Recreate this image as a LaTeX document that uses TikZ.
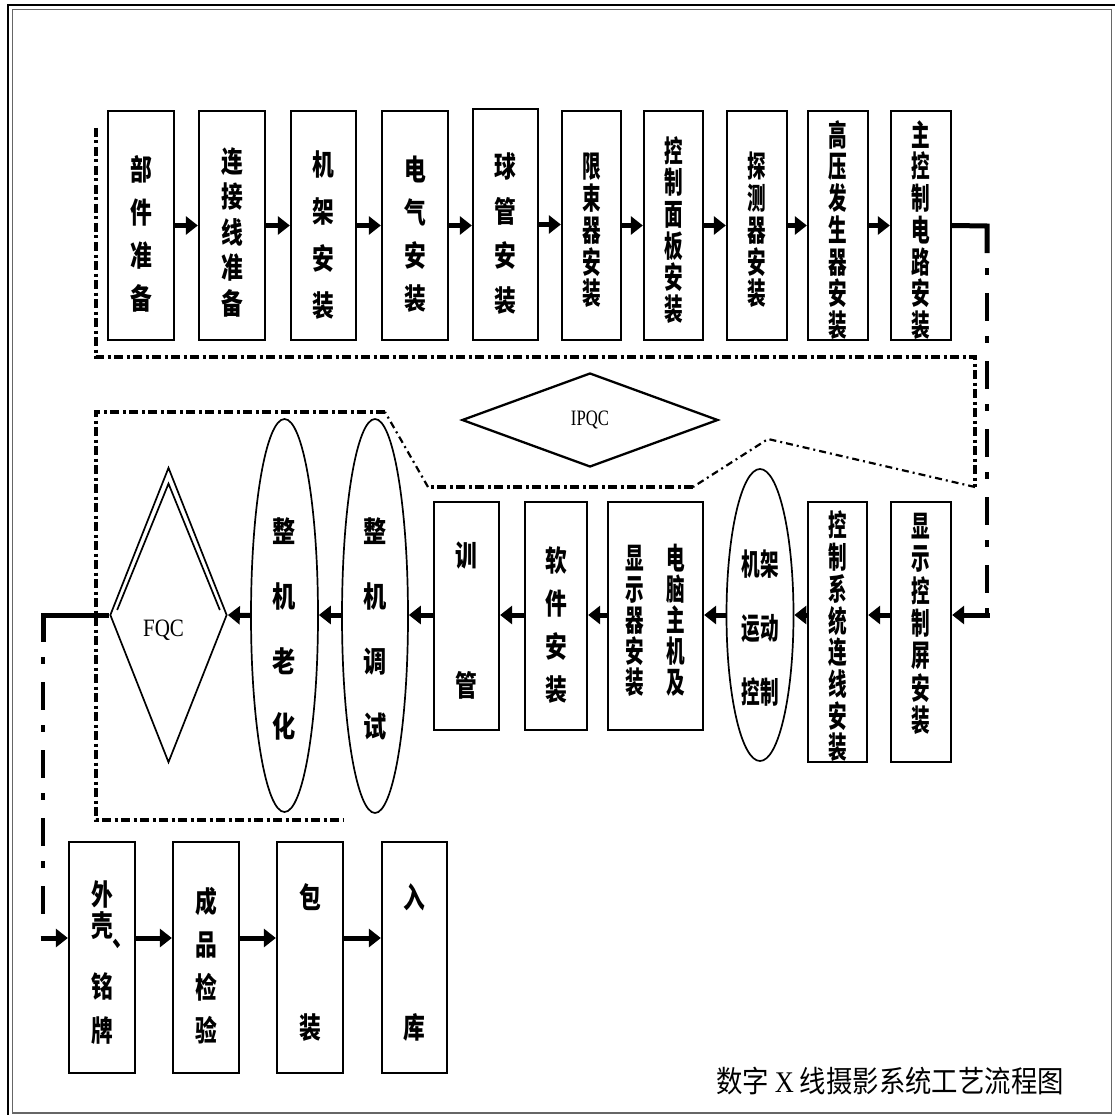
\documentclass[tikz,border=0pt]{standalone}
\usepackage{fontspec}
\usepackage{graphicx}
\usepackage{array}
\usetikzlibrary{arrows.meta,shapes.geometric,calc}
\newfontfamily\cjk{Noto Sans CJK SC}
\newfontfamily\tms{Liberation Serif}
\newcolumntype{Z}{>{\setbox0\hbox\bgroup}c<{\egroup\ht0=0pt\dp0=0pt\lower\dimexpr0.38em-0.2\baselineskip\relax\box0}}
\newcommand\vt[4]{\scalebox{#3}[1]{\fontsize{#1}{#2}\selectfont\begin{tabular}{@{}Z@{}}#4\end{tabular}}}
\begin{document}
\begin{tikzpicture}[x=1pt,y=-1pt,
  bx/.style={draw, line width=2.3pt, inner sep=0pt, font=\cjk\bfseries},
  el/.style={draw, ellipse, line width=1.7pt, inner sep=0pt, font=\cjk\bfseries},
  arr/.style={line width=5pt, -{Triangle[length=12pt,width=18pt]}},
  conn/.style={line width=5pt},
  cdash/.style={line width=4.5pt, dash pattern=on 28pt off 15pt on 7pt off 18pt},
  region/.style={line width=3.5pt, dash pattern=on 9pt off 3.5pt on 3pt off 3.5pt},
  regthin/.style={line width=2.2pt, dash pattern=on 7pt off 4pt on 2pt off 4pt}]
\useasboundingbox (0,0) rectangle (1115,1115);
% frame
\draw[line width=2.2pt] (8,1115) -- (8,5) -- (1115,5);
\draw[line width=1.3pt, black!60] (12.5,9.5) rectangle (1111.5,1113);
% top row
\node[bx, minimum width=66pt, minimum height=229pt] (t1) at (141,225.5) {\vt{29}{43}{0.75}{部\\件\\准\\备}};
\node[bx, minimum width=66pt, minimum height=229pt] (t2) at (232,225.5) {\vt{29}{35}{0.75}{连\\接\\线\\准\\备}};
\node[bx, minimum width=65pt, minimum height=229pt] (t3) at (323.5,225.5) {\vt{29}{47}{0.75}{机\\架\\安\\装}};
\node[bx, minimum width=66pt, minimum height=229pt] (t4) at (415,225.5) {\vt{29}{43}{0.75}{电\\气\\安\\装}};
\node[bx, minimum width=65pt, minimum height=231pt] (t5) at (505.5,224.5) {\vt{29}{44.5}{0.75}{球\\管\\安\\装}};
\node[bx, minimum width=59pt, minimum height=229pt] (t6) at (591.5,225.5) {\vt{30}{29}{0.62}{限\\束\\器\\安\\装}};
\node[bx, minimum width=59pt, minimum height=229pt] (t7) at (673.5,225.5) {\vt{30}{29}{0.62}{控\\制\\面\\板\\安\\装}};
\node[bx, minimum width=60pt, minimum height=229pt] (t8) at (757,225.5) {\vt{30}{29}{0.62}{探\\测\\器\\安\\装}};
\node[bx, minimum width=60pt, minimum height=229pt] (t9) at (838,225.5) {\vt{30}{29}{0.62}{高\\压\\发\\生\\器\\安\\装}};
\node[bx, minimum width=60pt, minimum height=229pt] (t10) at (921,225.5) {\vt{30}{29}{0.62}{主\\控\\制\\电\\路\\安\\装}};
\foreach \a/\b in {t1/t2,t2/t3,t3/t4,t4/t5,t5/t6,t6/t7,t7/t8,t8/t9,t9/t10}
  \draw[arr] (\a.east) -- (\b.west |- \a.east);
% middle row
\coordinate (my) at (0,615);
\node[bx, minimum width=60pt, minimum height=260pt] (m1) at (921,632) {\vt{30}{30}{0.62}{显\\示\\控\\制\\屏\\安\\装\\[30pt]}};
\node[bx, minimum width=59pt, minimum height=260pt] (m2) at (837.5,632) {\vt{30}{29}{0.62}{控\\制\\系\\统\\连\\线\\安\\装}};
\node[el, minimum width=67pt, minimum height=292pt] (m3) at (760,615) {\vt{30}{64}{0.62}{机架\\运动\\控制}};
\node[bx, minimum width=95pt, minimum height=228pt] (m4) at (655.5,616) {\scalebox{0.62}[1]{\fontsize{30}{28}\selectfont\begin{tabular}{@{}Z@{\hspace{36pt}}Z@{}}显&电\\示&脑\\器&主\\安&机\\装&及\end{tabular}}};
\node[bx, minimum width=62pt, minimum height=228pt] (m5) at (556,616) {\vt{29}{43}{0.75}{软\\件\\安\\装}};
\node[bx, minimum width=65pt, minimum height=228pt] (m6) at (466.5,616) {\vt{29}{29}{0.75}{训\\[101pt]管}};
\node[el, minimum width=66pt, minimum height=394pt] (m7) at (375,616) {\vt{29}{65}{0.8}{整\\机\\调\\试}};
\node[el, minimum width=67pt, minimum height=393pt] (m8) at (284.5,615.5) {\vt{29}{65}{0.8}{整\\机\\老\\化}};
\node[draw, diamond, aspect=0.4, minimum width=117pt, minimum height=295pt, line width=1.7pt, inner sep=0pt, font=\tms\fontsize{25}{25}\selectfont] (fqc) at (168.5,615) {\raisebox{-21pt}[0pt][0pt]{\hspace*{-10pt}\scalebox{0.84}[1]{FQC}}};
\draw[line width=1.7pt] ($(fqc.west)+(8,-5)$) -- ($(fqc.north)+(0,17)$) -- ($(fqc.east)+(-8,-5)$);
\draw[arr] (m1.west |- my) -- (m2.east |- my);
\draw[arr] (m2.west |- my) -- (m3.east);
\draw[arr] (m3.west) -- (m4.east |- my);
\draw[arr] (m4.west |- my) -- (m5.east |- my);
\draw[arr] (m5.west |- my) -- (m6.east |- my);
\draw[arr] (m6.west |- my) -- (m7.east |- my);
\draw[arr] (m7.west |- my) -- (m8.east |- my);
\draw[arr] (m8.west) -- (fqc.east);
% IPQC
\node[draw, diamond, aspect=2.72, minimum width=256pt, minimum height=94pt, line width=2.3pt, inner sep=0pt, font=\tms\fontsize{22}{22}\selectfont] (ipqc) at (590,420) {\scalebox{0.76}[1]{IPQC}};
% bottom row
\coordinate (by) at (0,938);
\node[bx, minimum width=66pt, minimum height=231pt] (b1) at (102,957.5) {\vt{29}{29}{0.75}{外\\壳\makebox[0pt][l]{\raisebox{-10pt}{、}}\\[32pt]铭\\[15pt]牌}};
\node[bx, minimum width=66pt, minimum height=231pt] (b2) at (206,957.5) {\vt{29}{43}{0.75}{成\\品\\检\\验}};
\node[bx, minimum width=66pt, minimum height=231pt] (b3) at (310,957.5) {\vt{29}{29}{0.75}{包\\[101pt]装}};
\node[bx, minimum width=65pt, minimum height=231pt] (b4) at (414.5,957.5) {\vt{29}{29}{0.75}{入\\[101pt]库}};
\draw[arr] (b1.east |- by) -- (b2.west |- by);
\draw[arr] (b2.east |- by) -- (b3.west |- by);
\draw[arr] (b3.east |- by) -- (b4.west |- by);
% long connectors
\coordinate (c1) at (987,226);
\coordinate (c2) at (987,615);
\draw[conn, line join=miter] (t10.east) -- (c1) -- ($(c1)+(0,27)$);
\draw[cdash, dash phase=28pt] ($(c1)+(0,27)$) -- (c2);
\draw[arr] ($(c2)+(2.5,0)$) -- (m1.east |- c2);
\coordinate (l1) at (43,615);
\coordinate (l2) at (43,938);
\draw[conn, line join=miter] (fqc.west) -- (l1) -- ($(l1)+(0,27)$);
\draw[cdash, dash phase=28pt] ($(l1)+(0,27)$) -- ($(l2)+(0,-20)$);
\draw[arr] ($(l2)+(-2.5,0)$) -- (b1.west |- l2);
% dash-dot regions
\draw[region] (96,128) -- (96,357) -- (975,357) -- (975,487);
\draw[regthin] (975,487) -- (768,439) -- (693,487);
\draw[region] (693,487) -- (428,487);
\draw[regthin] (428,487) -- (385,412);
\draw[region] (385,412) -- (96,412) -- (96,820) -- (343,820);
% title
\node (title) at (890,1081) {\fontsize{30}{30}\selectfont\scalebox{0.88}[1]{\cjk 数字 {\tms X} 线摄影系统工艺流程图}};
\end{tikzpicture}
\end{document}
